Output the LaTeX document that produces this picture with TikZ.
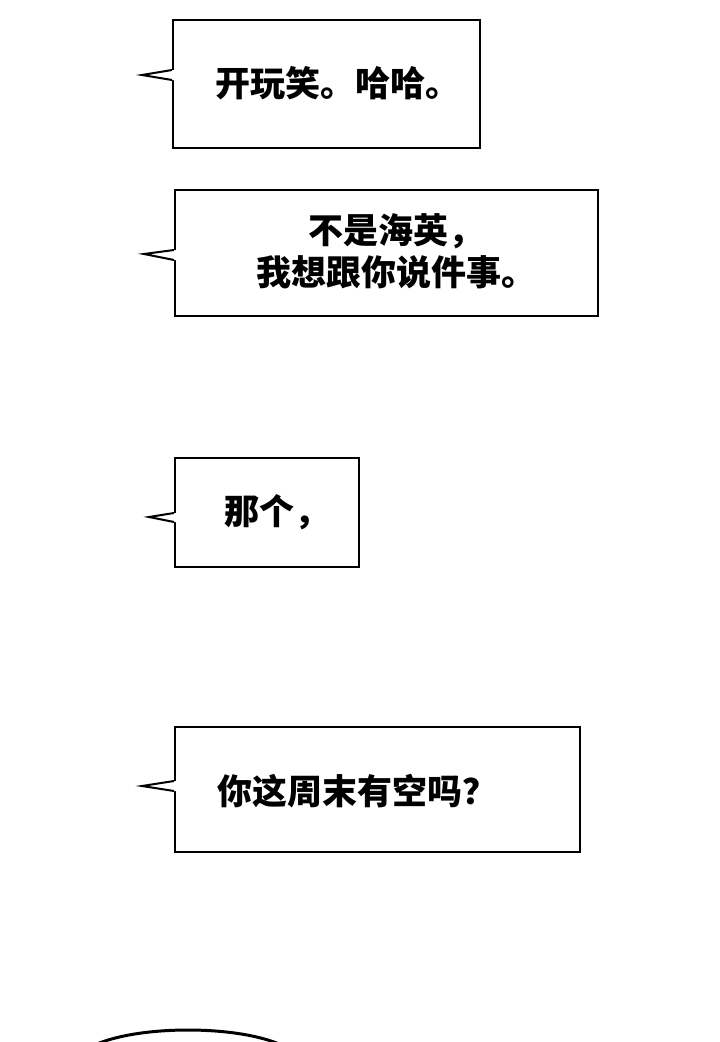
\documentclass[tikz,border=0pt]{standalone}
\usepackage{fontspec}
\newfontfamily\cjk{Noto Sans CJK SC}
\usepackage{tikz}

\begin{document}
\begin{tikzpicture}[x=1pt,y=-1pt]
	\tikzstyle{bubble}=[rectangle,draw,line width=2pt,fill=white,inner sep=0pt]
	\tikzstyle{words}=[font=\cjk\bfseries\fontsize{35}{42}\selectfont,align=center,inner sep=0pt]
	\tikzstyle{tail}=[line width=2pt,line join=miter]

	\useasboundingbox (0,0) rectangle (720,1042);

	% boxes
	\node[bubble,minimum width=307pt,minimum height=128pt] (b1) at (326.5,84) {};
	\node[bubble,minimum width=423pt,minimum height=126pt] (b2) at (386.5,253) {};
	\node[bubble,minimum width=184pt,minimum height=109pt] (b3) at (267,512.5) {};
	\node[bubble,minimum width=405pt,minimum height=125pt] (b4) at (377.5,789.5) {};

	% tails
	\coordinate (t1) at (142,75);
	\coordinate (t2) at (144,254);
	\coordinate (t3) at (149,517);
	\coordinate (t4) at (142,786);
	\foreach \b/\t/\ya/\yb in {b1/t1/70/80, b2/t2/250/260, b3/t3/513/522, b4/t4/781/791}{
		\fill[white] (\b.west |- 0,\ya) -- (\t) -- (\b.west |- 0,\yb) -- ([xshift=2pt]\b.west |- 0,\yb) -- ([xshift=2pt]\b.west |- 0,\ya) -- cycle;
		\draw[tail] (\b.west |- 0,\ya) -- (\t) -- (\b.west |- 0,\yb);
	}

	% texts
	\node[words] (w1) at (338,83) {开玩笑。哈哈。};
	\node[words] (w2) at (396,251) {不是海英，\\我想跟你说件事。};
	\node[words] (w3) at (277,512) {那个，};
	\node[words] (w4) at (357,791) {你这周末有空吗？};

	% edge of next panel
	\begin{scope}
		\clip (0,0) rectangle (720,1042);
		\draw[line width=3pt] (188,1062) ellipse [x radius=110, y radius=32];
	\end{scope}
\end{tikzpicture}
\end{document}
